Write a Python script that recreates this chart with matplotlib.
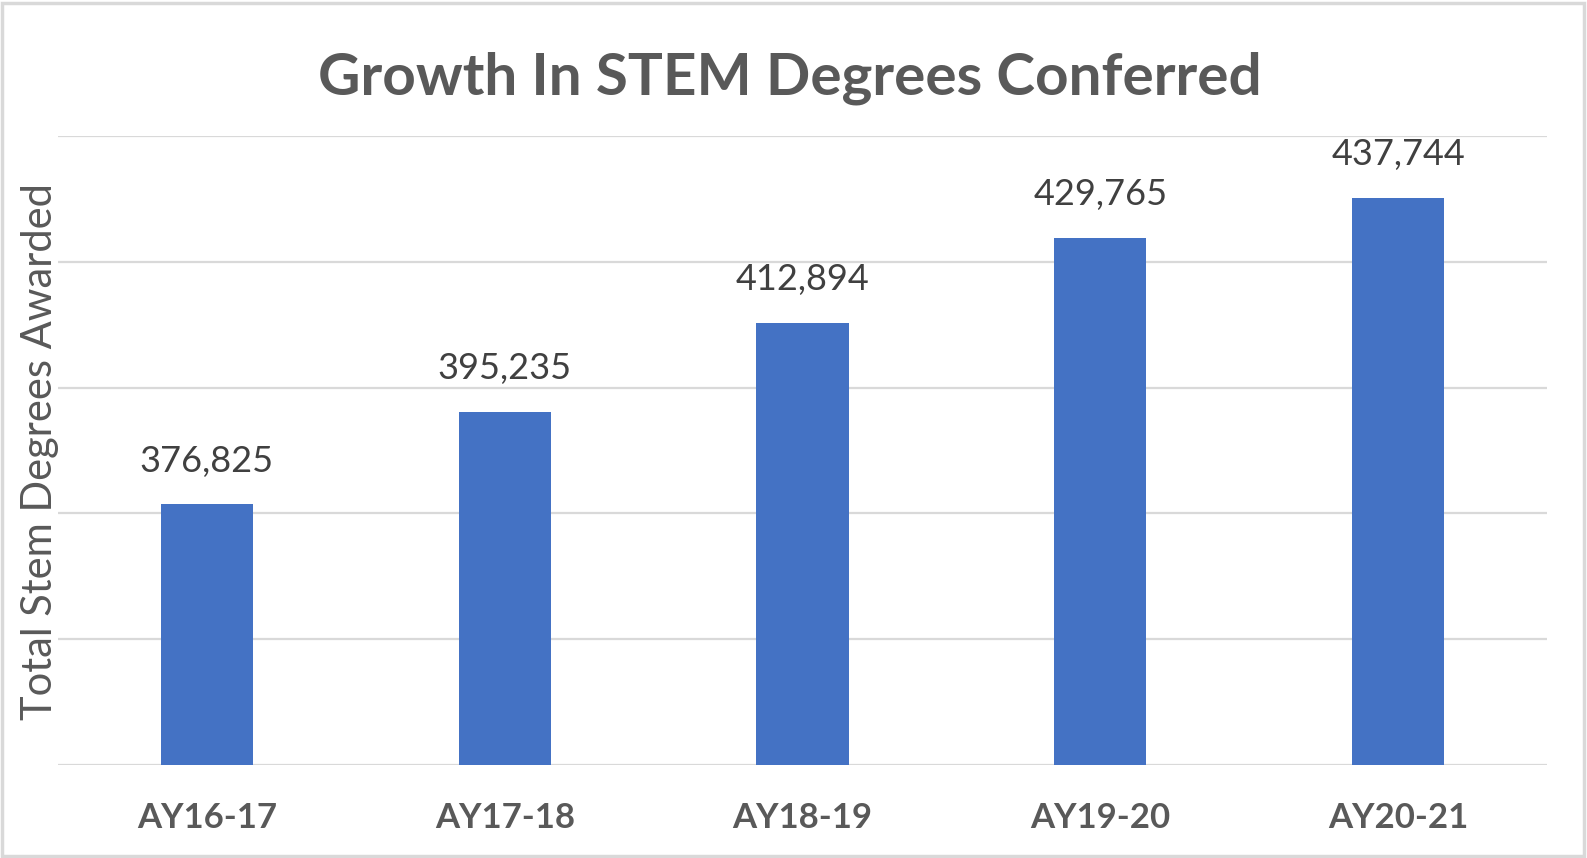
import matplotlib.pyplot as plt
from matplotlib.patches import Rectangle

years = ['AY16-17', 'AY17-18', 'AY18-19', 'AY19-20', 'AY20-21']
degrees = [376825, 395235, 412894, 429765, 437744]

BAR_COLOR = '#4472C4'
GRID_COLOR = '#D9D9D9'
TEXT_GRAY = '#595959'

plt.rcParams['font.family'] = ['Lato', 'DejaVu Sans']

fig = plt.figure(figsize=(15.87, 8.58), dpi=100)
ax = fig.add_axes([58 / 1587, 1 - 765 / 858, (1547 - 58) / 1587, (765 - 136) / 858])

x = range(len(years))
bars = ax.bar(x, degrees, width=0.31, color=BAR_COLOR, zorder=3)

ax.set_ylim(325000, 450000)
ax.set_xlim(-0.5, len(years) - 0.5)
ax.set_yticks(range(325000, 450001, 25000))
ax.yaxis.grid(True, color=GRID_COLOR, linewidth=1.6, zorder=0)
ax.tick_params(axis='y', left=False, labelleft=False)
ax.tick_params(axis='x', bottom=False, pad=23)
for s in ax.spines.values():
    s.set_visible(False)

ax.set_xticks(list(x))
ax.set_xticklabels(years, fontsize=25, fontweight='bold', color=TEXT_GRAY)

for xi, v in zip(x, degrees):
    ax.annotate(f'{v:,}', (xi, v), xytext=(0, 19), textcoords='offset points',
                ha='center', va='bottom', fontsize=26, color='#404040')

fig.text(40 / 1587, 1 - 452 / 858, 'Total Stem Degrees Awarded', rotation=90,
         ha='center', va='center', fontsize=30, color=TEXT_GRAY)
fig.text(790 / 1587, 1 - 78 / 858, 'Growth In STEM Degrees Conferred',
         ha='center', va='center', fontsize=42, fontweight='bold', color=TEXT_GRAY)

fig.patches.append(Rectangle((0.001, 0.002), 0.997, 0.995, transform=fig.transFigure,
                             fill=False, edgecolor=GRID_COLOR, linewidth=2.5))

fig.savefig('out.png', dpi=100)
